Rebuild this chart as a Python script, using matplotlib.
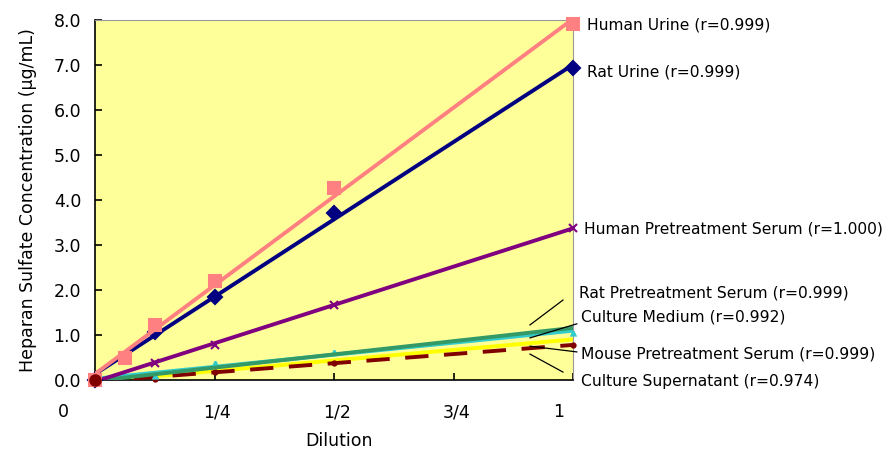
import numpy as np
import matplotlib.pyplot as plt
import matplotlib.transforms as mtransforms

# dilution steps
dilution = [0, 1/16, 1/8, 1/4, 1/2, 1]

human_urine = [0, 0.5, 1.22, 2.2, 4.27, 7.9]
rat_urine = [0, None, 1.07, 1.84, 3.71, 6.93]
human_serum = [0, None, 0.38, 0.78, 1.67, 3.38]
rat_serum = [0, None, 0.1, 0.28, 0.57, 1.16]
culture_medium = [0, None, 0.08, 0.38, 0.63, 1.05]
mouse_serum = [0, None, 0.04, 0.2, 0.45, 0.9]
culture_sup = [0, None, 0.02, 0.18, 0.38, 0.78]

labels = ["Human Urine (r=0.999)", "Rat Urine (r=0.999)",
          "Human Pretreatment Serum (r=1.000)", "Rat Pretreatment Serum (r=0.999)",
          "Culture Medium (r=0.992)", "Mouse Pretreatment Serum (r=0.999)",
          "Culture Supernatant (r=0.974)"]

xtick_pos = [-0.067, 0.255, 0.506, 0.757, 0.969]
xtick_labels = ["0", "1/4", "1/2", "3/4", "1"]

fig = plt.figure(figsize=(8.96, 4.61), dpi=100)
ax = fig.add_axes([95/896, 81/461, 478/896, 360/461])
ax.set_facecolor("#FFFF99")

series = [
    # values, colour, marker, marker size, line style, z
    (culture_sup, "#800000", "o", 3, (0, (6, 4)), 3),
    (mouse_serum, "#FFFF00", None, 0, "-", 2),
    (culture_medium, "#33CCCC", "^", 3, "-", 3),
    (rat_serum, "#339966", None, 0, "-", 4),
    (human_serum, "#800080", "x", 6, "-", 5),
    (rat_urine, "#000080", "D", 7, "-", 6),
    (human_urine, "#FF8080", "s", 9, "-", 7),
]

xfit = np.array([0.0, 1.0])
for vals, col, mk, ms, ls, z in series:
    x = np.array([d for d, v in zip(dilution, vals) if v is not None])
    y = np.array([v for v in vals if v is not None])
    k, b = np.polyfit(x, y, 1)
    ax.plot(xfit, k * xfit + b, color=col, lw=2.8, ls=ls, zorder=z,
            solid_capstyle="butt")
    if mk:
        ax.plot(x, y, ls="none", marker=mk, color=col, ms=ms, mew=1.5,
                zorder=z + 0.5, clip_on=False)

# origin point of the culture supernatant series sits on top
ax.plot(dilution[0], culture_sup[0], marker="o", color="#800000", ms=8,
        zorder=9, clip_on=False)

ax.set_xticks([0, 0.25, 0.5, 0.75, 1.0])
ax.set_xticklabels([])
ax.set_xlim(0, 1)
ax.set_ylim(0, 8)
ax.set_yticks(np.arange(0, 8.01, 1.0))
ax.set_yticklabels([f"{v:.1f}" for v in np.arange(0, 8.01, 1.0)])
ax.tick_params(axis="x", direction="in", length=5, width=1.2)
ax.tick_params(axis="y", direction="in", length=5, width=1.2, pad=10,
               labelsize=12.5)

# x tick labels sit a bit off their ticks in the original
trans = mtransforms.blended_transform_factory(ax.transData, ax.transAxes)
for xp, lab in zip(xtick_pos, xtick_labels):
    ax.text(xp, -0.09, lab, transform=trans, ha="center", va="center",
            fontsize=12.5, clip_on=False)

for s in ["top", "right"]:
    ax.spines[s].set_color("#999999")
for s in ["left", "bottom"]:
    ax.spines[s].set_color("black")
    ax.spines[s].set_linewidth(1.2)

ax.set_xlabel("Dilution", fontsize=12.5)
ax.xaxis.set_label_coords(0.51, -0.145)
ax.set_ylabel("Heparan Sulfate Concentration (μg/mL)", fontsize=12.5,
              labelpad=12)

# series labels at right
label_pos = [(1.029, 0.986), (1.029, 0.856), (1.023, 0.419), (1.013, 0.242),
             (1.017, 0.175), (1.017, 0.072), (1.017, -0.003)]
for txt, (tx, ty) in zip(labels, label_pos):
    ax.text(tx, ty, txt, transform=ax.transAxes, fontsize=11.2,
            va="center", ha="left", clip_on=False)

# leader lines
leaders = [((0.910, 0.153), (0.979, 0.222)), ((0.910, 0.117), (1.008, 0.156)),
           ((0.910, 0.094), (1.008, 0.078)), ((0.910, 0.072), (0.979, 0.022))]
for (x0, y0), (x1, y1) in leaders:
    ax.plot([x0, x1], [y0, y1], transform=ax.transAxes, color="black",
            lw=0.9, zorder=10, clip_on=False)

fig.savefig("out.png", dpi=100)
